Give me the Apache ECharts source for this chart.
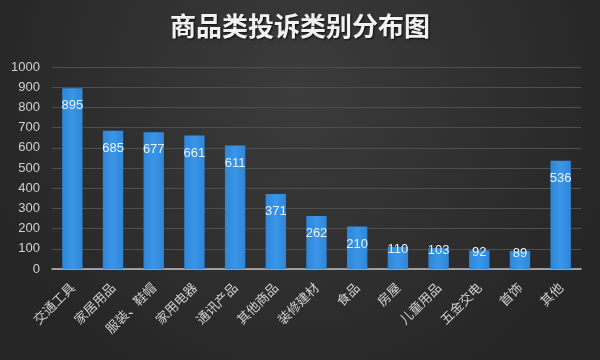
<!DOCTYPE html>
<html><head><meta charset="utf-8">
<script src="https://cdn.jsdelivr.net/npm/echarts@6/dist/echarts.min.js"></script>
<style>html,body{margin:0;padding:0;background:#2b2b2b}#c{width:600px;height:360px}</style>
</head><body><div id="c"></div>
<script>
const categories = ['交通工具','家居用品','服装、鞋帽','家用电器','通讯产品','其他商品','装修建材','食品','房屋','儿童用品','五金交电','首饰','其他'];
const values = [895,685,677,661,611,371,262,210,110,103,92,89,536];
const yTicks = [0,100,200,300,400,500,600,700,800,900,1000];

const chart = echarts.init(document.getElementById('c'));
chart.setOption({
  backgroundColor: {type:'radial', x:0.5, y:0.25, r:0.9, colorStops:[{offset:0,color:'#3c3c3c'},{offset:1,color:'#262626'}]},
  title: {text:'商品类投诉类别分布图', left:'center', top:8,
    textStyle:{color:'#f2f2f2', fontSize:26, fontWeight:'bold', fontFamily:'Noto Sans CJK SC',
      textShadowColor:'rgba(0,0,0,0.8)', textShadowBlur:2, textShadowOffsetX:1, textShadowOffsetY:1}},
  grid: {left:52, right:19, top:67, bottom:91},
  xAxis: {type:'category', data:categories,
    axisLine:{lineStyle:{color:'#bfbfbf', width:1.5}}, axisTick:{show:false},
    axisLabel:{rotate:45, color:'#d0d0d0', fontSize:13, fontFamily:'Noto Sans CJK SC', interval:0, margin:16}},
  yAxis: {type:'value', min:yTicks[0], max:yTicks[yTicks.length-1], interval:100,
    axisLine:{show:false}, axisTick:{show:false},
    axisLabel:{color:'#d0d0d0', fontSize:13, fontFamily:'Liberation Sans', margin:12, formatter:v=>String(v)},
    splitLine:{lineStyle:{color:'#4e4e4e', width:1}}},
  series: [{type:'bar', barWidth:'50%',
    data: values.map(v => ({value:v, label:{offset:[0, v < 150 ? -9 : 6]}})),
    itemStyle:{color:{type:'linear',x:0,y:0,x2:1,y2:0,colorStops:[{offset:0,color:'#2f86d8'},{offset:0.5,color:'#3a95e8'},{offset:1,color:'#2f86d8'}]}},
    label:{show:true, position:'insideTop', color:'#eaf2fb', fontSize:13, fontFamily:'Liberation Sans'}}]
});
</script></body></html>
